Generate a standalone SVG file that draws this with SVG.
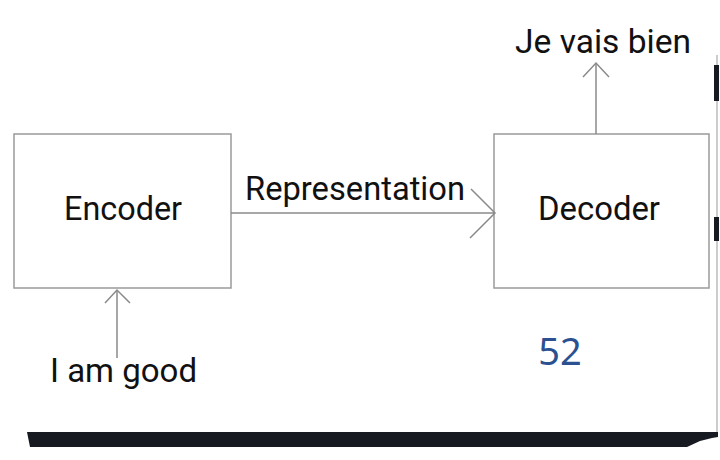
<svg xmlns="http://www.w3.org/2000/svg" width="720" height="460" viewBox="0 0 720 460">
<style>
.box{fill:#fff;stroke:#9a9a9a;stroke-width:1.5}
.lbl{font-family:Roboto,"Liberation Sans",sans-serif;fill:#111;font-size:33px}
.conn{stroke:#8a8a8a;stroke-width:1.5;fill:none}
</style>
<rect width="720" height="460" fill="#fff"/>
<g id="frame">
<line x1="717" y1="55" x2="717" y2="432" stroke="#999" stroke-width="1"/>
<rect x="714" y="65" width="5" height="36" fill="#171a21"/>
<rect x="714" y="217" width="5" height="24" fill="#171a21"/>
<path d="M27 432 L718 432 L718 437 L712 438 L700 441 L687 447 L30 447 Z" fill="#171a21"/>
</g>
<g id="encoder">
<rect class="box" x="14" y="134" width="217" height="154"/>
<text class="lbl" x="64" y="220" textLength="118" lengthAdjust="spacingAndGlyphs">Encoder</text>
</g>
<g id="decoder">
<rect class="box" x="494" y="134" width="215" height="154"/>
<text class="lbl" x="538" y="220" textLength="122" lengthAdjust="spacingAndGlyphs">Decoder</text>
</g>
<g id="input">
<text class="lbl" x="50" y="382" textLength="147" lengthAdjust="spacingAndGlyphs">I am good</text>
</g>
<g id="output">
<text class="lbl" x="515" y="53" textLength="176" lengthAdjust="spacingAndGlyphs">Je vais bien</text>
</g>
<g id="page-number">
<text x="560" y="365" font-family="'Noto Sans',sans-serif" font-size="38" fill="#2b5190" text-anchor="middle">52</text>
</g>
<g id="connectors">
<line class="conn" x1="231" y1="213" x2="495" y2="213"/>
<polyline class="conn" points="471,189 495,213 470,238"/>
<text class="lbl" x="245" y="200" textLength="220" lengthAdjust="spacingAndGlyphs">Representation</text>
<line class="conn" x1="117" y1="358" x2="117" y2="290"/>
<polyline class="conn" points="105,303 117,290 130,303"/>
<line class="conn" x1="596" y1="134" x2="596" y2="63"/>
<polyline class="conn" points="583,77 596,63 609,77"/>
</g>
</svg>
